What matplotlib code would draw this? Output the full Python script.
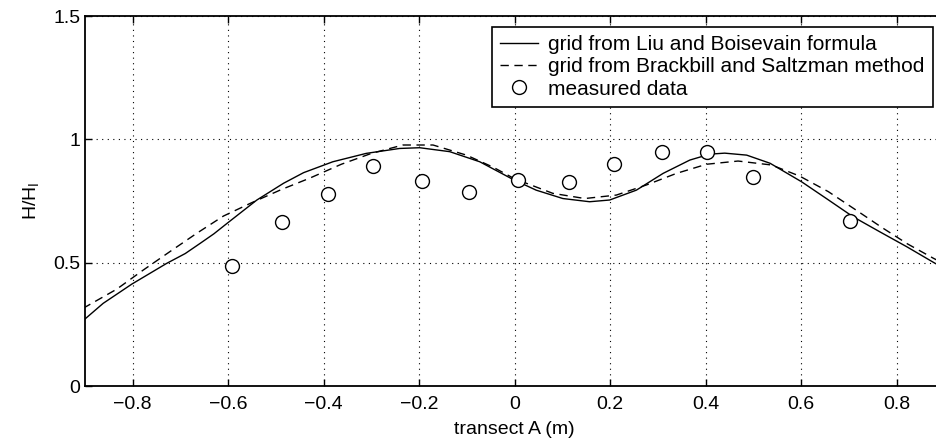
import numpy as np
import matplotlib
matplotlib.use("Agg")
import matplotlib.pyplot as plt

plt.rcParams['font.family'] = ['Liberation Sans', 'DejaVu Sans']

# curve: Liu and Boisevain grid
liu_x = [-0.904, -0.862, -0.802, -0.729, -0.690, -0.659, -0.630, -0.602, -0.540, -0.484, -0.442, -0.381,
         -0.311, -0.241, -0.199, -0.136, -0.073, -0.004, 0.045, 0.101, 0.157, 0.199, 0.255,
         0.311, 0.367, 0.409, 0.440, 0.486, 0.535, 0.601, 0.653, 0.709, 0.765, 0.821, 0.881, 0.9]
liu_y = [0.265, 0.335, 0.413, 0.497, 0.537, 0.578, 0.617, 0.660, 0.754, 0.822, 0.865, 0.909,
         0.943, 0.963, 0.966, 0.950, 0.909, 0.838, 0.794, 0.760, 0.747, 0.754, 0.794,
         0.862, 0.916, 0.940, 0.944, 0.936, 0.903, 0.828, 0.760, 0.686, 0.625, 0.565, 0.497, 0.48]

# Brackbill and Saltzman grid
bs_x = [-0.904, -0.834, -0.778, -0.722, -0.666, -0.610, -0.551, -0.488, -0.430, -0.363,
        -0.300, -0.234, -0.171, -0.101, -0.045, 0.0, 0.080, 0.147, 0.213, 0.276, 0.339,
        0.402, 0.468, 0.538, 0.597, 0.657, 0.713, 0.769, 0.823, 0.877, 0.9]
bs_y = [0.315, 0.392, 0.470, 0.545, 0.619, 0.689, 0.743, 0.797, 0.842, 0.899,
        0.943, 0.977, 0.977, 0.936, 0.887, 0.840, 0.781, 0.760, 0.774, 0.815, 0.862,
        0.899, 0.912, 0.896, 0.851, 0.788, 0.716, 0.643, 0.576, 0.518, 0.495]

# measured points
meas_x = [-0.593, -0.488, -0.391, -0.297, -0.194, -0.096, 0.006, 0.114, 0.208, 0.309, 0.402, 0.5, 0.702]
meas_y = [0.486, 0.666, 0.78, 0.893, 0.83, 0.786, 0.835, 0.826, 0.901, 0.949, 0.949, 0.849, 0.669]

xticks = [-0.8, -0.6, -0.4, -0.2, 0, 0.2, 0.4, 0.6, 0.8]
yticks = [0, 0.5, 1, 1.5]

fig = plt.figure(figsize=(9.36, 4.44), dpi=100)
ax = fig.add_axes([85/936, 58/444, (944.3-85)/936, 370/444])

ax.plot(liu_x, liu_y, color='black', lw=1.0, label='grid from Liu and Boisevain formula')
ax.plot(bs_x, bs_y, color='black', lw=1.0, dashes=(6, 4), label='grid from Brackbill and Saltzman method')
ax.plot(meas_x, meas_y, 'o', color='black', mfc='white', ms=10, mew=1.0, label='measured data')

ax.set_xlim(-0.9, 0.9)
ax.set_ylim(0, 1.5)
ax.set_xticks(xticks)
ax.set_yticks(yticks)
ax.set_xticklabels(['\u22120.8', '\u22120.6', '\u22120.4', '\u22120.2', '0', '0.2', '0.4', '0.6', '0.8'])
ax.set_yticklabels(['0', '0.5', '1', '1.5'])
ax.grid(True, color='black', linestyle=(0, (1, 4)), linewidth=0.8)
ax.tick_params(direction='in', length=5, top=True, right=True, labelsize=14, width=1.0)
ax.tick_params(axis='x', pad=7)
for s in ax.spines.values():
    s.set_linewidth(1.3)

ax.set_xlabel('transect A (m)', fontsize=14, labelpad=6)
ax.set_ylabel('H/H$_\\mathregular{I}$', fontsize=14, labelpad=8)

leg = ax.legend(loc='upper right', bbox_to_anchor=(933/936, 1-27/444), bbox_transform=fig.transFigure,
                fancybox=False, framealpha=1, edgecolor='black', fontsize=15,
                handlelength=1.8, handletextpad=0.5, labelspacing=0.15, borderpad=0.4, borderaxespad=0)
leg.get_frame().set_linewidth(1.2)

fig.savefig('out.png', dpi=100)
